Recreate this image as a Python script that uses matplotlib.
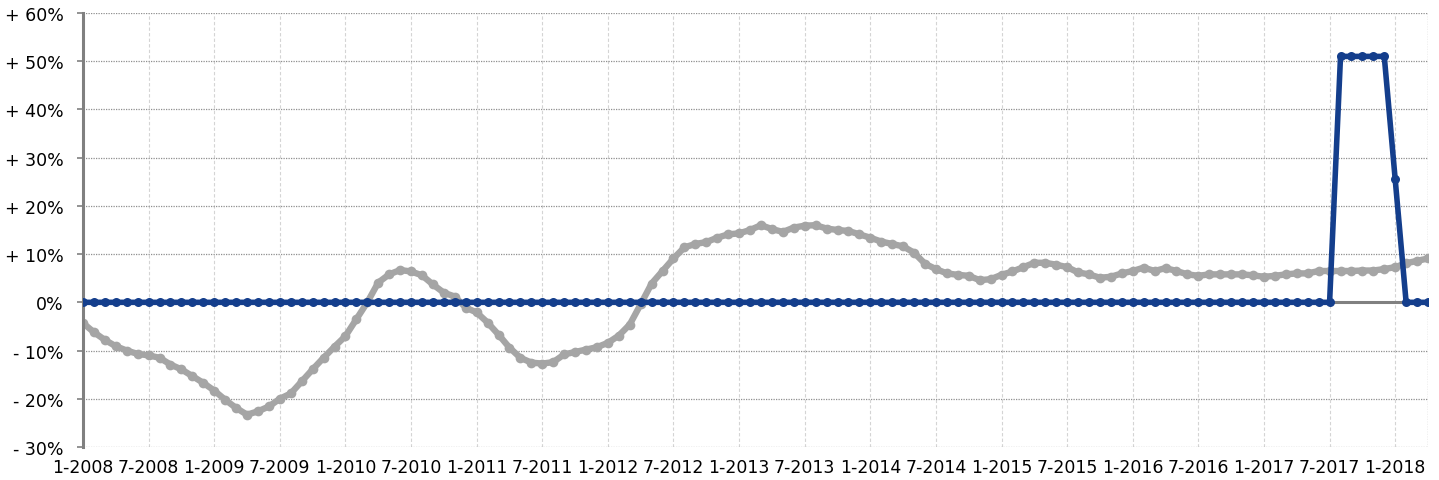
import numpy as np
import matplotlib.pyplot as plt

# monthly series, Jan 2008 .. Apr 2018 (percent change)
start_year = 2008
n_months = 124

grey_values = [
    -4.3, -6.2, -7.8, -9.1, -10.0, -10.7, -11.0, -11.5, -12.9, -13.9, -15.3, -16.7,
    -18.3, -20.2, -21.9, -23.3, -22.6, -21.6, -20.0, -18.9, -16.4, -13.9, -11.5, -9.2,
    -7.0, -3.5, 0.0, 4.1, 5.8, 6.7, 6.4, 5.6, 3.7, 2.0, 1.2, -1.1,
    -2.1, -4.2, -6.7, -9.4, -11.5, -12.5, -12.7, -12.4, -10.8, -10.3, -9.8, -9.3,
    -8.4, -6.9, -4.6, -0.4, 3.9, 6.5, 9.1, 11.4, 12.1, 12.5, 13.4, 14.1,
    14.3, 15.0, 16.0, 15.2, 14.6, 15.5, 15.9, 16.0, 15.3, 15.0, 14.8, 14.1,
    13.4, 12.6, 12.1, 11.6, 10.3, 8.0, 6.9, 6.0, 5.7, 5.5, 4.6, 4.8,
    5.7, 6.4, 7.3, 8.2, 8.2, 7.8, 7.3, 6.2, 5.8, 5.1, 5.3, 6.0,
    6.5, 7.2, 6.5, 7.1, 6.5, 5.8, 5.5, 5.8, 5.8, 5.8, 5.8, 5.6,
    5.3, 5.5, 5.8, 6.0, 6.0, 6.5, 6.5, 6.5, 6.5, 6.6, 6.6, 6.9,
    7.3, 8.1, 8.6, 9.1,
]

blue_values = [0.0] * 115 + [51.0, 51.0, 51.0, 51.0, 51.0, 25.5, 0.0, 0.0, 0.0]

months = np.arange(n_months)
tick_pos = np.arange(0, n_months, 6)
tick_labels = [f"{1 + (m % 12)}-{start_year + m // 12}" for m in tick_pos]
y_ticks = np.arange(-30, 61, 10)
y_labels = [("+ " if v > 0 else "- " if v < 0 else "") + f"{abs(v)}%" for v in y_ticks]

grey = "#a5a5a5"
blue = "#143e8c"
axis_grey = "#808080"

plt.rcParams["font.family"] = ["DejaVu Sans"]

fig = plt.figure(figsize=(14.39, 4.81), dpi=100)
ax = fig.add_axes([83 / 1439, 33 / 481, (1428 - 83) / 1439, (449 - 15) / 481])

ax.set_xlim(0, n_months - 1)
ax.set_ylim(-30, 60)

# grid: light dashed verticals, dotted horizontals
for x in tick_pos:
    ax.axvline(x, color="#d4d4d4", lw=0.8, ls=(0, (3, 2)), zorder=0)
for y in y_ticks:
    ax.axhline(y, color="#8f8f8f", lw=0.9, ls=(0, (1, 1)), zorder=0)
ax.axvline(n_months - 1, color="#8f8f8f", lw=0.9, ls=(0, (1, 1)), zorder=0)
ax.axhline(0, color=axis_grey, lw=2.2, zorder=1)

ax.plot(months, grey_values, color=grey, lw=4.6, marker="o", ms=7,
        markeredgewidth=0, solid_capstyle="round", zorder=2)
ax.plot(months, blue_values, color=blue, lw=4.0, marker="o", ms=6.5,
        markeredgewidth=0, solid_joinstyle="round", zorder=3)

for side in ["top", "right", "bottom"]:
    ax.spines[side].set_visible(False)
ax.spines["left"].set_color(axis_grey)
ax.spines["left"].set_linewidth(2.2)

ax.set_yticks(y_ticks)
ax.set_yticklabels(y_labels, fontsize=12.5)
ax.tick_params(axis="y", length=4, width=1.2, color=axis_grey, pad=10)
ax.set_xticks(tick_pos)
ax.set_xticklabels(tick_labels, fontsize=12.5)
ax.tick_params(axis="x", length=0, pad=8)

fig.savefig("out.png", dpi=100)
